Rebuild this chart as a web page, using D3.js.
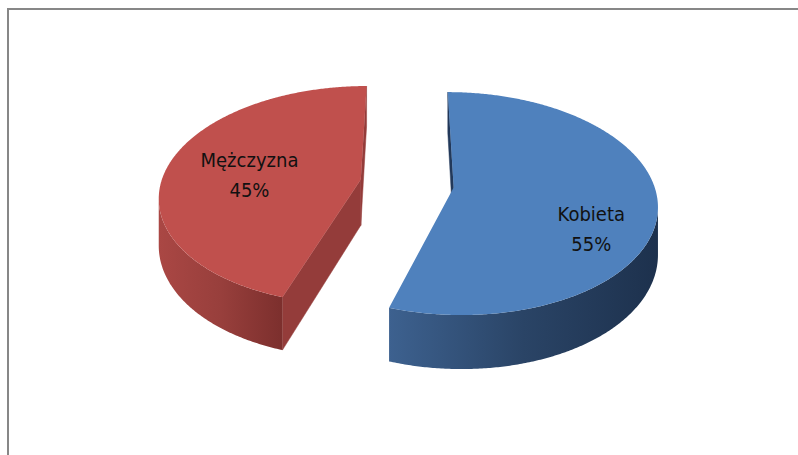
<!DOCTYPE html>
<html>
<head>
<meta charset="utf-8">
<script src="https://cdn.jsdelivr.net/npm/d3@7"></script>
<style>
  body { margin: 0; background: #fff; }
  svg { display: block; }
</style>
</head>
<body>
<script>
// chart data
var categories = ["Kobieta", "Mężczyzna"];
var values = [55, 45];
var percentLabels = ["55%", "45%"];
var topColors = ["#4F81BD", "#C0504D"];
var wallStops = [
  ["#3d618f", "#2a4466", "#1d314d"],
  ["#aa4744", "#983f3c", "#7c2f2d"]
];
var cutColors = ["#22395a", "#943c3a"];

var w = 798, h = 455;

// pseudo-perspective view of the pie plane
var view = { x0: 407, y0: 183.5, rx: 200, ry: 108, persp: 0.1435, depth: 46 };
var explode = 0.235;
// small nudges to match where the labels sit
var labelNudge = [[8, 24], [12, 0]];

function project(u, d, z) {
  var s = 1 / (1 - view.persp * d);
  return [view.x0 + view.rx * u * s, view.y0 + (view.ry * d + view.depth * z) * s];
}

function signedArea(p) {
  var a = 0;
  for (var i = 0; i < p.length; i++) {
    var q = p[(i + 1) % p.length];
    a += p[i][0] * q[1] - q[0] * p[i][1];
  }
  return a / 2;
}

var data = categories.map(function (c, i) {
  return { name: c, value: values[i], pct: percentLabels[i], i: i };
});

var pie = d3.pie().sort(null).value(function (d) { return d.value; });
var slices = pie(data);

var svg = d3.select("body").append("svg")
  .attr("width", w)
  .attr("height", h);

var defs = svg.append("defs");

// chart frame
svg.append("rect")
  .attr("x", 8).attr("y", 9)
  .attr("width", 810).attr("height", 470)
  .attr("fill", "none")
  .attr("stroke", "#878787")
  .attr("stroke-width", 2);

var line = d3.line();
var step = Math.PI / 360;

slices.forEach(function (sl) {
  var i = sl.data.i;
  var mid = (sl.startAngle + sl.endAngle) / 2;
  var ou = explode * Math.sin(mid), od = -explode * Math.cos(mid);

  function pt(a, r, z) {
    return project(ou + r * Math.sin(a), od - r * Math.cos(a), z);
  }

  var angles = d3.range(sl.startAngle, sl.endAngle, step).concat([sl.endAngle]);
  var g = svg.append("g").attr("class", "slice");

  // radial walls (start edge: vertex -> rim, end edge: rim -> vertex)
  var edges = [
    [pt(0, 0, 0), pt(sl.startAngle, 1, 0), pt(sl.startAngle, 1, 1), pt(0, 0, 1)],
    [pt(sl.endAngle, 1, 0), pt(0, 0, 0), pt(0, 0, 1), pt(sl.endAngle, 1, 1)]
  ];
  edges.forEach(function (q) {
    if (signedArea(q) < 0) {
      g.append("path")
        .attr("d", line(q) + "Z")
        .attr("fill", cutColors[i])
        .attr("stroke", cutColors[i])
        .attr("stroke-width", 0.5);
    }
  });

  // outer wall: keep the segments that face the viewer
  var runs = [], cur = null;
  for (var k = 0; k < angles.length - 1; k++) {
    var a = angles[k], b = angles[k + 1];
    var vis = signedArea([pt(a, 1, 0), pt(b, 1, 0), pt(b, 1, 1), pt(a, 1, 1)]) < 0;
    if (vis) {
      if (!cur) { cur = [a]; runs.push(cur); }
      cur.push(b);
    } else {
      cur = null;
    }
  }

  runs.forEach(function (run, j) {
    var topPts = run.map(function (a) { return pt(a, 1, 0); });
    var botPts = run.map(function (a) { return pt(a, 1, 1); }).reverse();
    var poly = topPts.concat(botPts);
    var xs = d3.extent(poly, function (p) { return p[0]; });
    var gid = "wall" + i + "_" + j;
    var grad = defs.append("linearGradient")
      .attr("id", gid)
      .attr("gradientUnits", "userSpaceOnUse")
      .attr("x1", xs[0]).attr("y1", 0)
      .attr("x2", xs[1]).attr("y2", 0);
    grad.selectAll("stop")
      .data(wallStops[i])
      .enter().append("stop")
      .attr("offset", function (d, n) { return n / (wallStops[i].length - 1); })
      .attr("stop-color", function (d) { return d; });
    g.append("path")
      .attr("d", line(poly) + "Z")
      .attr("fill", "url(#" + gid + ")");
  });

  // top face
  var face = [pt(0, 0, 0)].concat(angles.map(function (a) { return pt(a, 1, 0); }));
  g.append("path")
    .attr("d", line(face) + "Z")
    .attr("fill", topColors[i]);

  // label
  var lp = pt(mid, 0.64, 0);
  var lx = lp[0] + labelNudge[i][0], ly = lp[1] + labelNudge[i][1];
  var txt = g.append("text")
    .attr("x", lx)
    .attr("y", ly)
    .attr("text-anchor", "middle")
    .attr("font-family", "'Liberation Sans Narrow', 'DejaVu Sans Condensed', sans-serif")
    .attr("font-size", 20)
    .attr("fill", "#111");
  txt.append("tspan").attr("x", lx).attr("dy", "-0.1em").text(sl.data.name);
  txt.append("tspan").attr("x", lx).attr("dy", "1.5em").text(sl.data.pct);
});
</script>
</body>
</html>
